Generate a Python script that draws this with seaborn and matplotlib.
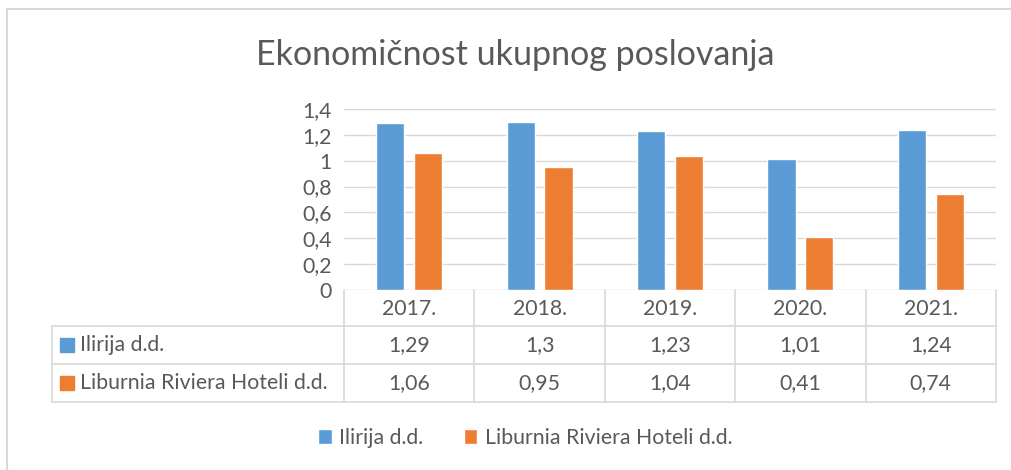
import matplotlib
matplotlib.use("Agg")
import matplotlib.pyplot as plt
import seaborn as sns
import pandas as pd
from matplotlib.patches import Rectangle
from matplotlib.lines import Line2D

# -----------------------------
# DATA
# -----------------------------
years = ["2017.", "2018.", "2019.", "2020.", "2021."]
companies = ["Ilirija d.d.", "Liburnia Riviera Hoteli d.d."]
ilirija = [1.29, 1.30, 1.23, 1.01, 1.24]
liburnia = [1.06, 0.95, 1.04, 0.41, 0.74]
y_ticks = [0, 0.2, 0.4, 0.6, 0.8, 1.0, 1.2, 1.4]
title = "Ekonomičnost ukupnog poslovanja"

colors = ["#5B9BD5", "#ED7D31"]
txt = "#595959"
grid = "#D9D9D9"
fs = 15.3

df = pd.DataFrame({
    "godina": years * 2,
    "firma": [companies[0]] * 5 + [companies[1]] * 5,
    "vrijednost": ilirija + liburnia,
})

sns.set_theme(style="white")
plt.rcParams["font.family"] = ["Lato", "DejaVu Sans"]

W, H = 1011, 470
fig = plt.figure(figsize=(W / 100, H / 100), dpi=100)


def fx(px):
    return px / W


def fy(py):
    return 1 - py / H


# plot area in pixels
left, right, top, bottom = 344, 996, 109, 290
ax = fig.add_axes([fx(left), fy(bottom), fx(right - left), (bottom - top) / H])

sns.barplot(data=df, x="godina", y="vrijednost", hue="firma", palette=colors,
            width=0.58, gap=0.25, ax=ax, saturation=1)

ax.set_ylim(0, 1.4)
ax.set_xlim(-0.5, 4.5)
ax.set_yticks(y_ticks)
ax.set_yticklabels([("%g" % t).replace(".", ",") for t in y_ticks],
                   fontsize=fs, color=txt)
ax.tick_params(axis="y", length=0, pad=9)
ax.set_xticks([])
ax.set_xlabel("")
ax.set_ylabel("")
for s in ax.spines.values():
    s.set_visible(False)
ax.yaxis.grid(True, color=grid, lw=1)
ax.set_axisbelow(True)

# legend at bottom
sns.move_legend(ax, loc="center", bbox_to_anchor=(fx(525), fy(438)),
                bbox_transform=fig.transFigure, ncol=2, frameon=False,
                fontsize=fs, handlelength=0.65, handleheight=0.65,
                handletextpad=0.35, columnspacing=1.9, title=None)
for t in ax.get_legend().get_texts():
    t.set_color(txt)

# title
fig.text(fx(515), fy(55), title, ha="center", va="center", fontsize=24.5, color=txt)

# chart frame
fig.patches.append(Rectangle((fx(7), fy(480)), fx(1020), (480 - 9) / H,
                             transform=fig.transFigure, fill=False,
                             edgecolor=grid, lw=1.5))

# data table
col_w = (right - left) / len(years)
cols = [left + i * col_w for i in range(len(years) + 1)]
tbl_left = 52
rows = [290, 326, 364, 402]


def line(x0, y0, x1, y1):
    fig.lines.append(Line2D([fx(x0), fx(x1)], [fy(y0), fy(y1)],
                            transform=fig.transFigure, color=grid, lw=1.2))


for x in cols:
    line(x, rows[0], x, rows[3])
line(tbl_left, rows[1], tbl_left, rows[3])
for y in rows[1:]:
    line(tbl_left, y, right, y)

for i, yr in enumerate(years):
    cx = (cols[i] + cols[i + 1]) / 2
    fig.text(fx(cx), fy((rows[0] + rows[1]) / 2 + 1), yr, ha="center",
             va="center", fontsize=fs, color=txt)
    for r, vals in enumerate([ilirija, liburnia]):
        fig.text(fx(cx), fy((rows[r + 1] + rows[r + 2]) / 2), ("%g" % vals[i]).replace(".", ","),
                 ha="center", va="center", fontsize=fs, color=txt)

for r, (name, c) in enumerate(zip(companies, colors)):
    cy = (rows[r + 1] + rows[r + 2]) / 2
    fig.patches.append(Rectangle((fx(60), fy(cy + 7)), fx(14), 14 / H,
                                 transform=fig.transFigure, color=c))
    fig.text(fx(80), fy(cy), name, ha="left", va="center", fontsize=fs, color=txt)

fig.savefig("out.png", dpi=100)
